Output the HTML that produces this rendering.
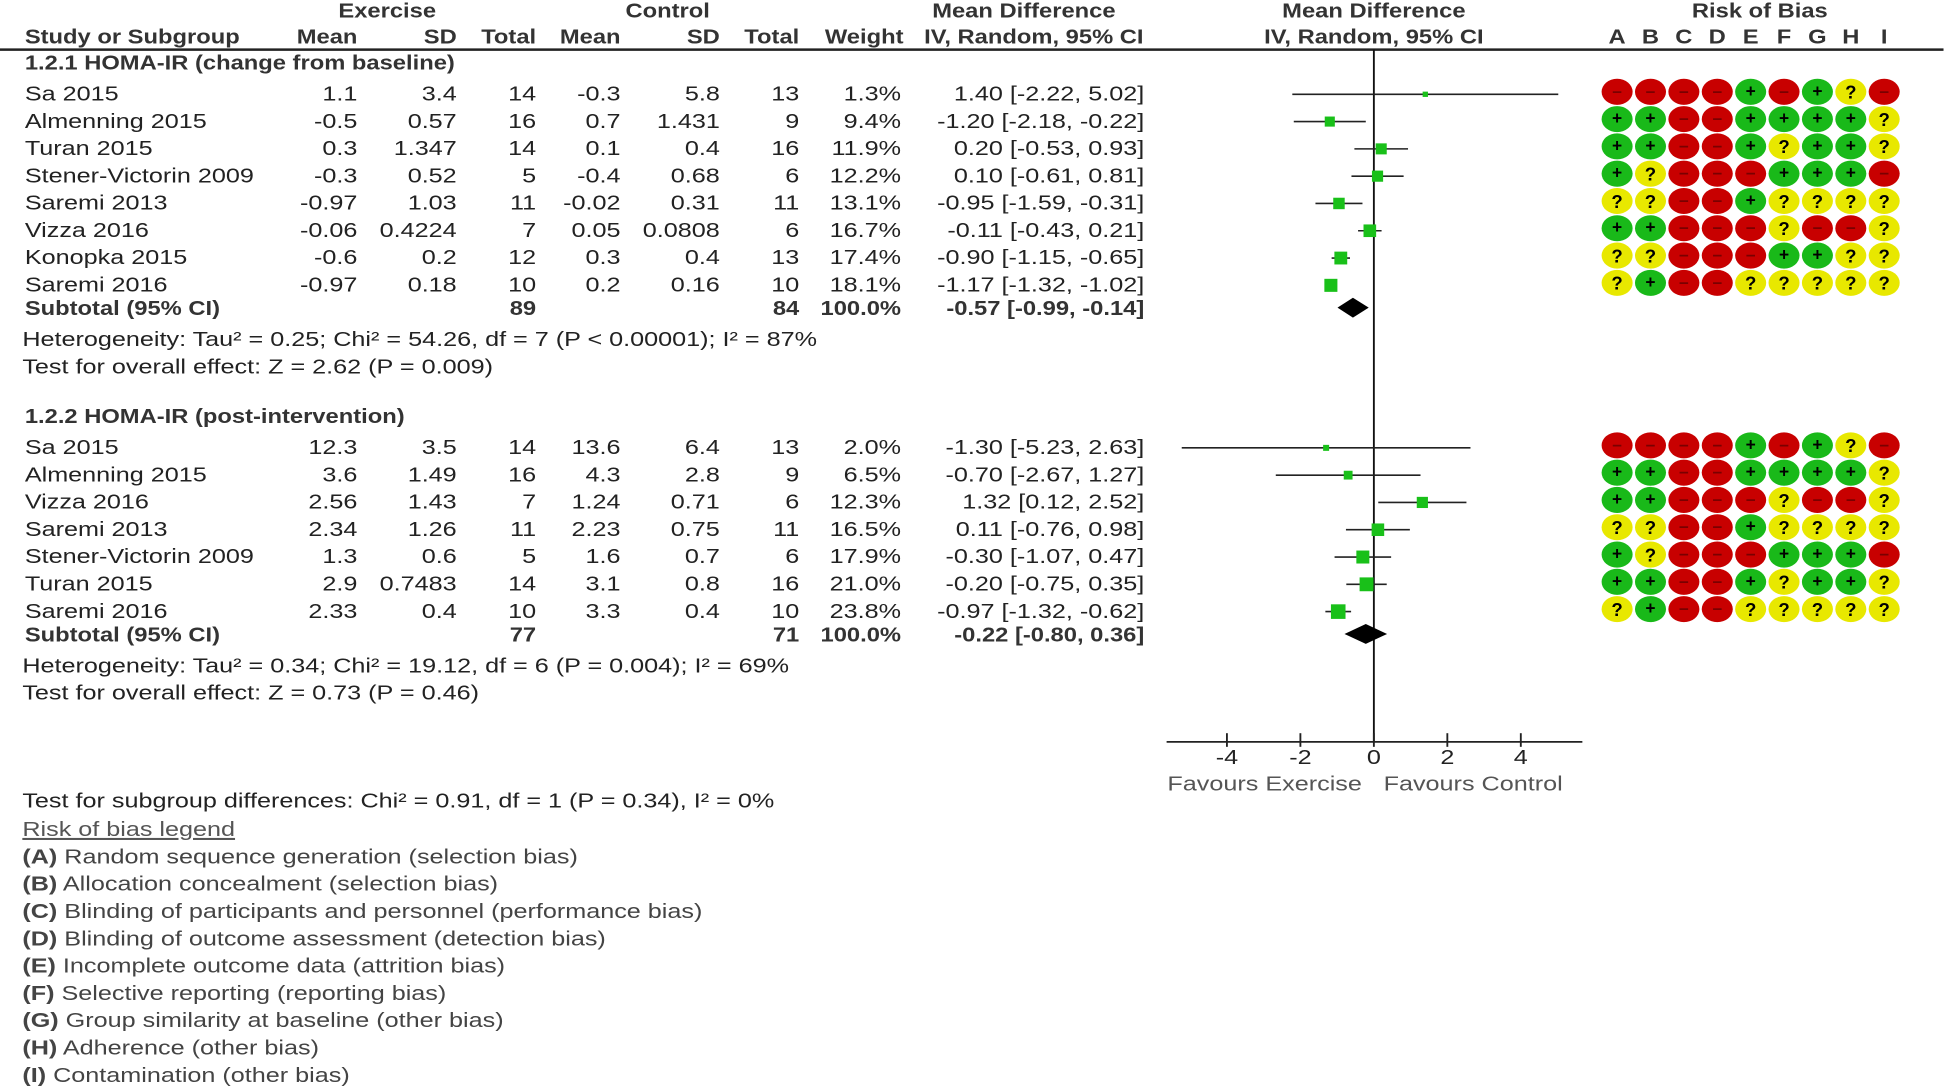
<!DOCTYPE html>
<html><head><meta charset="utf-8"><style>
html,body{margin:0;padding:0;background:#fff;}
svg{display:block;}
text{font-family:"Liberation Sans",Arial,sans-serif;font-size:16.5px;fill:#222;}
.b{font-weight:bold;fill:#333;}
</style></head><body>
<svg id="chart" width="1946" height="1088" viewBox="0 0 1568 877" preserveAspectRatio="none" xmlns="http://www.w3.org/2000/svg"></svg>
<script>
const g1Names = ["Sa 2015","Almenning 2015","Turan 2015","Stener-Victorin 2009","Saremi 2013","Vizza 2016","Konopka 2015","Saremi 2016"];
const g1ExMean = ["1.1","-0.5","0.3","-0.3","-0.97","-0.06","-0.6","-0.97"];
const g1ExSD = ["3.4","0.57","1.347","0.52","1.03","0.4224","0.2","0.18"];
const g1ExN = ["14","16","14","5","11","7","12","10"];
const g1CoMean = ["-0.3","0.7","0.1","-0.4","-0.02","0.05","0.3","0.2"];
const g1CoSD = ["5.8","1.431","0.4","0.68","0.31","0.0808","0.4","0.16"];
const g1CoN = ["13","9","16","6","11","6","13","10"];
const g1Weight = [1.3,9.4,11.9,12.2,13.1,16.7,17.4,18.1];
const g1MD = [1.40,-1.20,0.20,0.10,-0.95,-0.11,-0.90,-1.17];
const g1Lo = [-2.22,-2.18,-0.53,-0.61,-1.59,-0.43,-1.15,-1.32];
const g1Hi = [5.02,-0.22,0.93,0.81,-0.31,0.21,-0.65,-1.02];
const g1Rob = ["----+-+?-","++--++++?","++--+?++?","+?---+++-","??--+????","++---?--?","??---++??","?+--?????"];
const g1Sub = {ex:"89",co:"84",md:-0.57,lo:-0.99,hi:-0.14};

const g2Names = ["Sa 2015","Almenning 2015","Vizza 2016","Saremi 2013","Stener-Victorin 2009","Turan 2015","Saremi 2016"];
const g2ExMean = ["12.3","3.6","2.56","2.34","1.3","2.9","2.33"];
const g2ExSD = ["3.5","1.49","1.43","1.26","0.6","0.7483","0.4"];
const g2ExN = ["14","16","7","11","5","14","10"];
const g2CoMean = ["13.6","4.3","1.24","2.23","1.6","3.1","3.3"];
const g2CoSD = ["6.4","2.8","0.71","0.75","0.7","0.8","0.4"];
const g2CoN = ["13","9","6","11","6","16","10"];
const g2Weight = [2.0,6.5,12.3,16.5,17.9,21.0,23.8];
const g2MD = [-1.30,-0.70,1.32,0.11,-0.30,-0.20,-0.97];
const g2Lo = [-5.23,-2.67,0.12,-0.76,-1.07,-0.75,-1.32];
const g2Hi = [2.63,1.27,2.52,0.98,0.47,0.35,-0.62];
const g2Rob = ["----+-+?-","++--++++?","++---?--?","??--+????","+?---+++-","++--+?++?","?+--?????"];
const g2Sub = {ex:"77",co:"71",md:-0.22,lo:-0.80,hi:0.36};

const axisTicks = [-4,-2,0,2,4];
const robLetters = ["A","B","C","D","E","F","G","H","I"];
const legendItems = ["Random sequence generation (selection bias)","Allocation concealment (selection bias)","Blinding of participants and personnel (performance bias)","Blinding of outcome assessment (detection bias)","Incomplete outcome data (attrition bias)","Selective reporting (reporting bias)","Group similarity at baseline (other bias)","Adherence (other bias)","Contamination (other bias)"];

const NS="http://www.w3.org/2000/svg";
const svg=document.getElementById('chart');
const X0=1107, PX=29.6;
function xs(v){return X0+v*PX;}
function mk(tag,attrs,name,inter){
  const el=document.createElementNS(NS,tag);
  for(const k in attrs) el.setAttribute(k,attrs[k]);
  
  
  svg.appendChild(el);return el;
}
function txt(x,y,s,anchor,name,cls,noScale){
  const el=mk('text',{x:x,y:y,'text-anchor':anchor||'start'},name,false);
  const sx = cls==='b' ? 1.16 : 1.23;
  if(!noScale) el.setAttribute('transform',`translate(${x},0) scale(${sx},1) translate(${-x},0)`);
  if(cls) el.setAttribute('class',cls);
  el.textContent=s;return el;
}
function fmt(v){return v.toFixed(2);}
txt(312,14,"Exercise","middle","exercise-header","b");
txt(538,14,"Control","middle","control-header","b");
txt(825,14,"Mean Difference","middle","md-header","b");
txt(1107,14,"Mean Difference","middle","md-plot-header","b");
txt(1418,14,"Risk of Bias","middle","rob-header","b");
txt(20,35,"Study or Subgroup","start","study-col-header","b");
const hdrs=[["Mean",288],["SD",368],["Total",432],["Mean",500],["SD",580],["Total",644],["Weight",728]];
hdrs.forEach(h=>txt(h[1],35,h[0],"end","col-header-"+h[0].toLowerCase(),"b"));
txt(833,35,"IV, Random, 95% CI","middle","ci-col-header","b");
txt(1107,35,"IV, Random, 95% CI","middle","plot-col-header","b");
robLetters.forEach((l,i)=>txt(1303+i*26.9,35,l,"middle","rob-letter-"+l.toLowerCase(),"b"));
mk('line',{x1:0,y1:40,x2:1566,y2:40,stroke:'#222','stroke-width':2},'header-rule',false);
mk('line',{x1:X0,y1:40,x2:X0,y2:598,stroke:'#111','stroke-width':1.5},'zero-line',false);

const robColor={'-':'#c80000','+':'#19b919','?':'#e8e800'};
function group(title,ty,y0,names,em,esd,en,cm,csd,cn,w,md,lo,hi,rob,sub,het,test,gid){
  txt(20,ty,title,"start",gid+"-title","b");
  names.forEach((n,i)=>{
    const y=y0+i*22;
    txt(20,y,n,"start",gid+"-study-name");
    txt(288,y,em[i],"end",gid+"-ex-mean");
    txt(368,y,esd[i],"end",gid+"-ex-sd");
    txt(432,y,en[i],"end",gid+"-ex-total");
    txt(500,y,cm[i],"end",gid+"-co-mean");
    txt(580,y,csd[i],"end",gid+"-co-sd");
    txt(644,y,cn[i],"end",gid+"-co-total");
    txt(726,y,w[i].toFixed(1)+"%","end",gid+"-weight");
    txt(922,y,fmt(md[i])+" ["+fmt(lo[i])+", "+fmt(hi[i])+"]","end",gid+"-ci-text");
    const cy=y-5;
    mk('line',{x1:xs(lo[i]),y1:cy,x2:xs(hi[i]),y2:cy,stroke:'#222','stroke-width':1.3},gid+'-ci-line',false);
    const s=2+Math.sqrt(w[i])*2;
    mk('rect',{x:xs(md[i])-s/2,y:cy-s/2,width:s,height:s,fill:'#19c019'},gid+'-effect-square',false);
    rob[i].split('').forEach((c,j)=>{
      const cx=1303+j*26.9, ry=y-7;
      mk('ellipse',{cx:cx,cy:ry,rx:12.5,ry:10.5,fill:robColor[c]},gid+'-rob-circle',false);
      const t=txt(cx,ry+(c==='?'?5.5:4),c==='-'?'\u2013':c,"middle",gid+"-rob-symbol","b",true);
      t.setAttribute('style','fill:'+(c==='-'?'#7a0000':'#000')+';font-size:'+(c==='?'?'15px':'14px'));
    });
  });
  const sy=y0+names.length*22-3;
  txt(20,sy,"Subtotal (95% CI)","start",gid+"-subtotal-label","b");
  txt(432,sy,sub.ex,"end",gid+"-subtotal-ex","b");
  txt(644,sy,sub.co,"end",gid+"-subtotal-co","b");
  txt(726,sy,"100.0%","end",gid+"-subtotal-weight","b");
  txt(922,sy,fmt(sub.md)+" ["+fmt(sub.lo)+", "+fmt(sub.hi)+"]","end",gid+"-subtotal-ci","b");
  const dy=sy-6;
  mk('polygon',{points:`${xs(sub.lo)},${dy} ${xs(sub.md)},${dy-8} ${xs(sub.hi)},${dy} ${xs(sub.md)},${dy+8}`,fill:'#000'},gid+'-subtotal-diamond',false);
  txt(18,sy+25,het,"start",gid+"-heterogeneity");
  txt(18,sy+47,test,"start",gid+"-overall-effect");
}
group("1.2.1 HOMA-IR (change from baseline)",56,81,g1Names,g1ExMean,g1ExSD,g1ExN,g1CoMean,g1CoSD,g1CoN,g1Weight,g1MD,g1Lo,g1Hi,g1Rob,g1Sub,
 "Heterogeneity: Tau\u00b2 = 0.25; Chi\u00b2 = 54.26, df = 7 (P < 0.00001); I\u00b2 = 87%","Test for overall effect: Z = 2.62 (P = 0.009)","g1");
group("1.2.2 HOMA-IR (post-intervention)",341,366,g2Names,g2ExMean,g2ExSD,g2ExN,g2CoMean,g2CoSD,g2CoN,g2Weight,g2MD,g2Lo,g2Hi,g2Rob,g2Sub,
 "Heterogeneity: Tau\u00b2 = 0.34; Chi\u00b2 = 19.12, df = 6 (P = 0.004); I\u00b2 = 69%","Test for overall effect: Z = 0.73 (P = 0.46)","g2");

mk('line',{x1:940,y1:598,x2:1275,y2:598,stroke:'#222','stroke-width':1.5},'x-axis',false);
axisTicks.forEach(v=>{
  mk('line',{x1:xs(v),y1:591,x2:xs(v),y2:602,stroke:'#222','stroke-width':1.5},'x-tick',false);
  txt(xs(v),616,v<0?"-"+Math.abs(v):String(v),"middle","x-tick-label");
});
txt(1019,637,"Favours Exercise","middle","favours-exercise-label").setAttribute('style','fill:#555');
txt(1187,637,"Favours Control","middle","favours-control-label").setAttribute('style','fill:#555');

txt(18,651,"Test for subgroup differences: Chi\u00b2 = 0.91, df = 1 (P = 0.34), I\u00b2 = 0%","start","subgroup-differences");
const lg=txt(18,674,"Risk of bias legend","start","rob-legend-title");
lg.setAttribute('text-decoration','underline');
lg.setAttribute('style','fill:#555');
legendItems.forEach((s,i)=>{
  const el=txt(18,696+i*22,"","start","rob-legend-item");
  const ts=document.createElementNS(NS,'tspan');
  ts.setAttribute('font-weight','bold');ts.textContent="("+robLetters[i]+")";
  el.appendChild(ts);
  el.appendChild(document.createTextNode(" "+s));
  el.setAttribute('style','fill:#444');
});
</script>
</body></html>
